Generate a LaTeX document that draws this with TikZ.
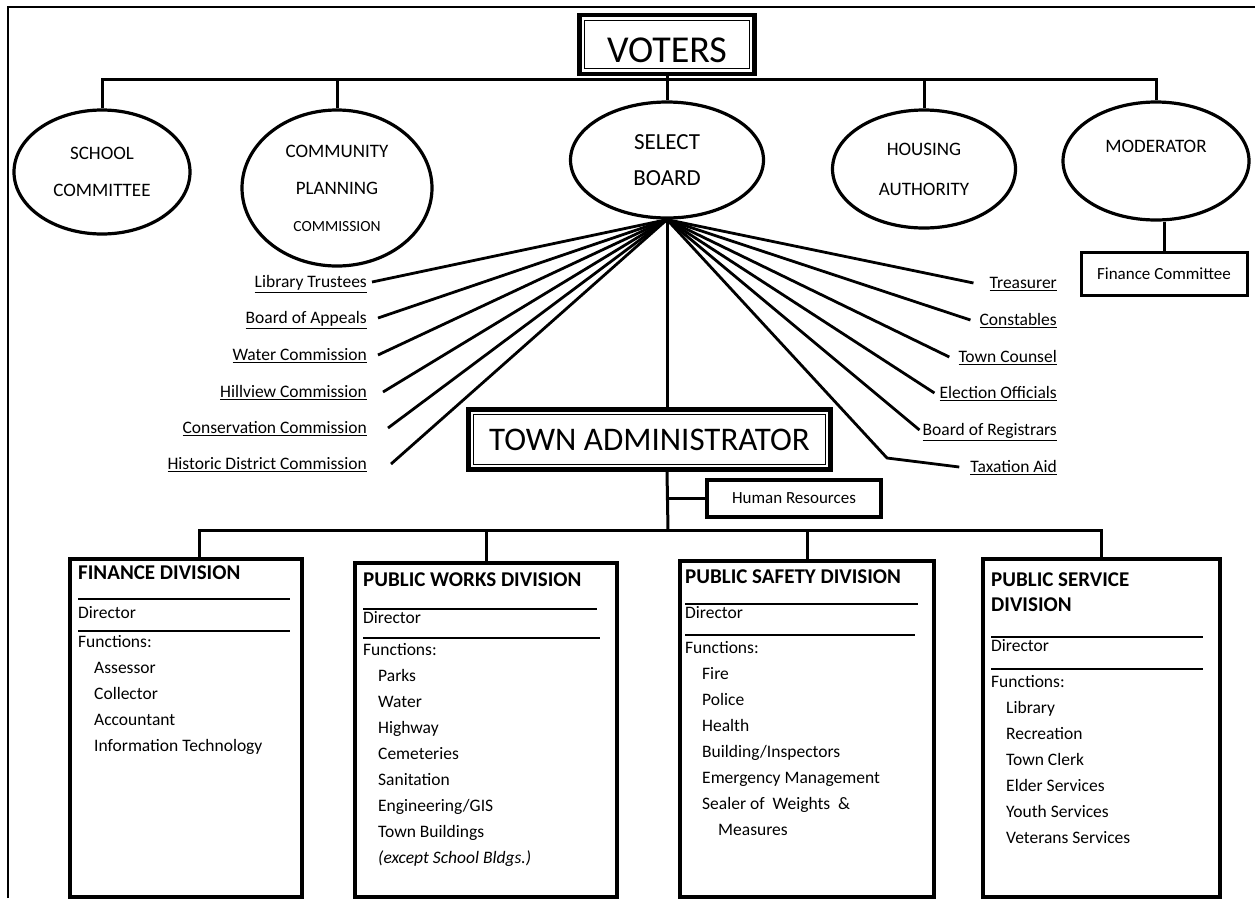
\documentclass[tikz,border=0pt]{standalone}
\usepackage{fontspec}
\setmainfont{Carlito}
\usepackage{tikz}
\usetikzlibrary{shapes.geometric,calc}
% thin inner line of the two headline boxes
\newcommand{\dblframe}[1]{\draw[line width=1.3pt] ([shift={(7.5pt,7.5pt)}]#1.south west) rectangle ([shift={(-7.5pt,-7.5pt)}]#1.north east);}

\begin{document}
\begin{tikzpicture}[x=1pt, y=-1pt, font=\fontsize{17.5}{21}\selectfont,
  conn/.style={line width=3pt},
  fan/.style={line width=2.8pt},
  oval/.style={ellipse, draw, line width=3.2pt, inner sep=0pt, align=center, font=\fontsize{19}{37}\selectfont},
  headbox/.style={draw, line width=4.5pt, inner sep=0pt},
  smallbox/.style={draw, line width=3pt, inner sep=0pt, font=\fontsize{17}{20}\selectfont},
  divbox/.style={draw, line width=4pt, anchor=north west, inner sep=0pt},
  divhead/.style={anchor=west, inner sep=0pt, align=left, font=\bfseries\fontsize{21}{25}\selectfont},
  txt/.style={anchor=west, inner sep=0pt, text height=11pt, text depth=0pt},
  sep/.style={line width=1.4pt}]
  \useasboundingbox (0,0) rectangle (1255,898);
  \draw[line width=1.5pt] (8,898) -- (8,7) -- (1255,7);

  % voters and the elected boards
  \node[headbox, minimum width=175pt, minimum height=59pt, text height=35pt, text depth=0pt,
        font=\fontsize{38}{44}\selectfont] (voters) at (667,44.5) {VOTERS};
  \dblframe{voters}
  \node[oval, minimum width=176pt, minimum height=124pt] (sc) at (102,172) {SCHOOL\\COMMITTEE};
  \node[oval, minimum width=190pt, minimum height=156pt] (cpc) at (337,188)
       {COMMUNITY\\PLANNING\\{\fontsize{15.5}{37}\selectfont COMMISSION}};
  \node[oval, minimum width=193pt, minimum height=116pt, font=\fontsize{23}{36}\selectfont] (sb) at (667,160) {SELECT\\BOARD};
  \node[oval, minimum width=183pt, minimum height=118pt] (ha) at (924,169) {HOUSING\\[3pt]AUTHORITY};
  \node[oval, minimum width=186pt, minimum height=118pt] (mod) at (1156,161) {MODERATOR\\[-8pt]\mbox{}};
  \node[smallbox, minimum width=166pt, minimum height=43pt] (fc) at (1164,273.5) {Finance Committee};

  \coordinate (topbus) at (667,79);
  \draw[conn] (sc.north) |- (topbus) -| (mod.north);
  \draw[conn] (cpc.north) -- (cpc.north |- topbus);
  \draw[conn] (ha.north) -- (ha.north |- topbus);
  \draw[conn] (voters.south) -- (sb.north);
  \draw[conn] (fc.north) -- (fc.north |- mod.south);

  % boards named by the select board, left
  \foreach \n/\t/\y/\d in {lib/Library Trustees/282/5, app/Board of Appeals/318/11,
      wat/Water Commission/355/11, hil/Hillview Commission/392/16,
      con/Conservation Commission/428/21, his/Historic District Commission/464/24}{
    \node[txt, anchor=east] (\n) at (367,\y) {\underline{\t}};
    \draw[fan] (sb.south) -- ([xshift=\d]\n.east);
  }
  % right
  \foreach \n/\t/\y/\d in {tre/Treasurer/283/16, cst/Constables/320/9,
      tcn/Town Counsel/357/9, ele/Election Officials/393/5, reg/Board of Registrars/430/3}{
    \node[txt, anchor=east] (\n) at (1057,\y) {\underline{\t}};
    \draw[fan] (sb.south) -- ([xshift=-\d]\n.west);
  }
  \node[txt, anchor=east] (tax) at (1057,467) {\underline{Taxation Aid}};
  \coordinate (taxbend) at (887,458);
  \draw[fan] (sb.south) -- (taxbend) -- ([xshift=-11]tax.west);

  % town administrator
  \node[headbox, minimum width=362pt, minimum height=60pt, font=\fontsize{33}{40}\selectfont] (ta) at (649.5,439.5) {TOWN ADMINISTRATOR};
  \dblframe{ta}
  \node[smallbox, line width=3.5pt, minimum width=174pt, minimum height=37pt] (hr) at (794,498.5) {Human Resources};
  \draw[conn] (sb.south) -- (sb.south |- ta.north);

  % divisions
  \node[divbox, minimum width=232pt, minimum height=338pt] (fin) at (68,557) {};
  \node[divbox, minimum width=262pt, minimum height=334pt] (wrk) at (353,561) {};
  \node[divbox, minimum width=254pt, minimum height=336pt] (saf) at (678,559) {};
  \node[divbox, minimum width=237pt, minimum height=338pt] (svc) at (981,557) {};

  \coordinate (lowbus) at (668,530);
  \draw[conn] (sb.south |- ta.south) -- (lowbus);
  \draw[conn] (sb.south |- hr.west) -- (hr.west);
  \draw[conn] ([xshift=13pt]fin.north) |- (lowbus) -| (svc.north);
  \draw[conn] (wrk.north) -- (wrk.north |- lowbus);
  \draw[conn] (saf.north) -- (saf.north |- lowbus);

  % finance
  \node[divhead] (finT) at (78,573) {FINANCE DIVISION};
  \draw[sep] (78,599) -- (290,599);
  \node[txt] (finD) at (78,613) {Director};
  \draw[sep] (78,631) -- (290,631);
  \node[txt] (finF) at (78,642) {Functions:};
  \foreach \t [count=\i] in {Assessor,Collector,Accountant,Information Technology}
    \node[txt] (fin\i) at (94,642+26*\i) {\t};

  % public works
  \node[divhead] (wrkT) at (363,580) {PUBLIC WORKS DIVISION};
  \draw[sep] (363,609) -- (597,609);
  \node[txt] (wrkD) at (363,618) {Director};
  \draw[sep] (363,638) -- (600,638);
  \node[txt] (wrkF) at (363,650) {Functions:};
  \foreach \t [count=\i] in {Parks,Water,Highway,Cemeteries,Sanitation,Engineering/GIS,
      Town Buildings,\textit{(except School Bldgs.)}}
    \node[txt] (wrk\i) at (378,650+26*\i) {\t};

  % public safety
  \node[divhead] (safT) at (685,577) {PUBLIC SAFETY DIVISION};
  \draw[sep] (685,604) -- (918,604);
  \node[txt] (safD) at (685,613) {Director};
  \draw[sep] (685,635) -- (915,635);
  \node[txt] (safF) at (685,648) {Functions:};
  \foreach \t [count=\i] in {Fire,Police,Health,Building/Inspectors,Emergency Management,
      Sealer of~ Weights~ \&}
    \node[txt] (saf\i) at (702,648+26*\i) {\t};
  \node[txt] (safM) at (718,830) {Measures};

  % public service
  \node[divhead] (svcT) at (991,592.5) {PUBLIC SERVICE\\DIVISION};
  \draw[sep] (991,637) -- (1203,637);
  \node[txt] (svcD) at (991,646) {Director};
  \draw[sep] (991,669) -- (1203,669);
  \node[txt] (svcF) at (991,682) {Functions:};
  \foreach \t [count=\i] in {Library,Recreation,Town Clerk,Elder Services,Youth Services,Veterans Services}
    \node[txt] (svc\i) at (1006,682+26*\i) {\t};
\end{tikzpicture}
\end{document}
